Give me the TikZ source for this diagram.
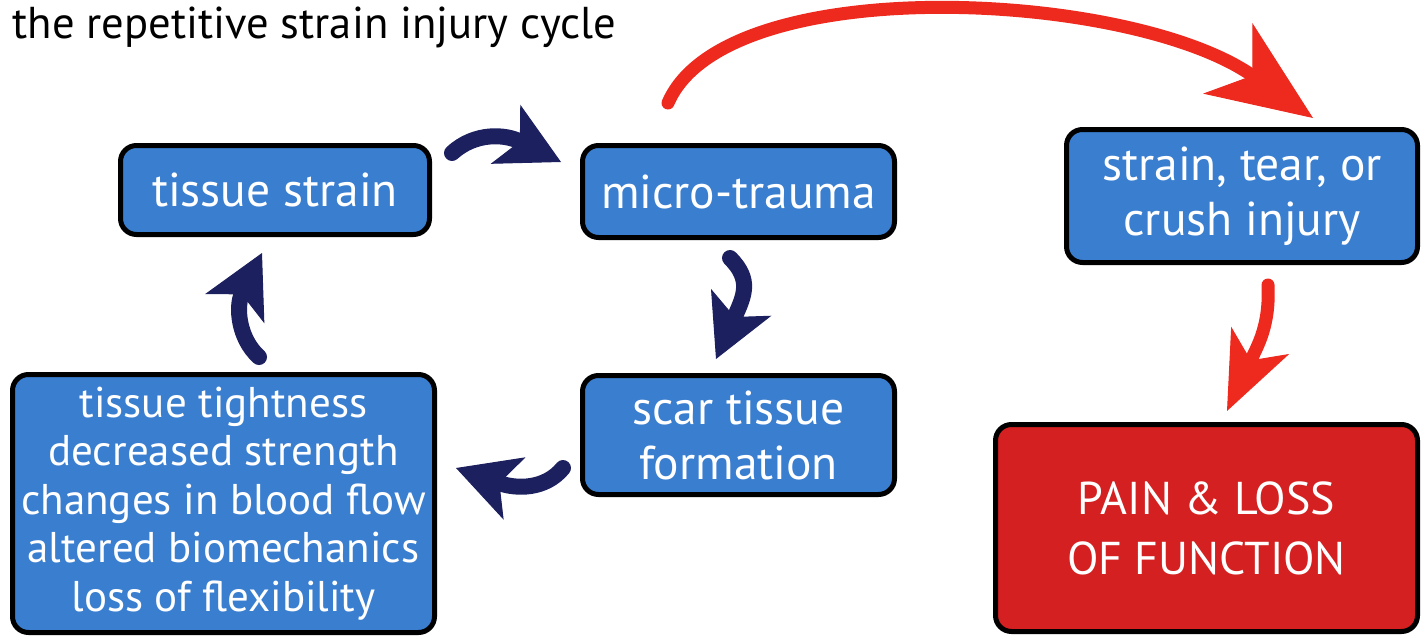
\documentclass[tikz,border=0pt]{standalone}
\usepackage{fontspec}
\setmainfont{PT Sans}
\usetikzlibrary{arrows.meta}
\definecolor{boxblue}{RGB}{58,126,208}
\definecolor{boxred}{RGB}{212,32,32}
\definecolor{navy}{RGB}{28,32,94}
\definecolor{arrred}{RGB}{238,42,30}
\begin{document}
\begin{tikzpicture}[x=1pt,y=-1pt,
  box/.style={draw=black, line width=5pt, rounded corners=16pt, fill=boxblue,
    text=white, align=center, inner sep=0pt},
  redbox/.style={box, fill=boxred},
  boxfont/.style={font=\fontsize{47.5}{55}\selectfont},
  navyarrow/.style={draw=navy, line width=16pt, line cap=round,
    -{Stealth[length=62pt,width=66pt,inset=16pt,line width=1pt]}},
  redarrow/.style={draw=arrred, line width=13pt, line cap=round,
    -{Stealth[length=104pt,width=86pt,inset=30pt,line width=1pt]}},
  redarrowb/.style={draw=arrred, line width=13pt, line cap=round,
    -{Stealth[length=78pt,width=64pt,inset=22pt,line width=1pt]}}]
\useasboundingbox (0,0) rectangle (1427,637);

\node[anchor=base west, font=\fontsize{44.6}{50}\selectfont] (title) at (9,38) {the repetitive strain injury cycle};

\node[box, boxfont, minimum width=309pt, minimum height=89pt] (ts) at (275,190) {tissue strain};
\node[box, boxfont, minimum width=312pt, minimum height=92pt] (mt) at (738.5,191.5) {micro-trauma};
\node[box, boxfont, minimum width=312pt, minimum height=119pt] (sc) at (738.5,435) {scar tissue\\formation};
\node[box, font=\fontsize{43}{48.5}\selectfont, minimum width=422pt, minimum height=258pt] (tt) at (223.5,503.5)
  {tissue tightness\\decreased strength\\changes in blood flow\\altered biomechanics\\loss of flexibility};
\node[box, boxfont, minimum width=351pt, minimum height=133pt] (st) at (1242,196) {strain, tear, or\\crush injury};
\node[redbox, font=\fontsize{46}{60}\selectfont, minimum width=422pt, minimum height=207pt] (pl) at (1206.5,528) {PAIN \& LOSS\\OF FUNCTION};

% navy cycle arrows
\coordinate (a1s) at (452,153);
\coordinate (a1e) at (561,162);
\draw[navyarrow] (a1s) .. controls (475,132) and (505,134) .. (a1e);

\coordinate (a2s) at (730,258);
\coordinate (a2e) at (716,359);
\draw[navyarrow] (a2s) .. controls (752,280) and (744,296) .. (a2e);

\coordinate (a3s) at (563,468);
\coordinate (a3e) at (456,468);
\draw[navyarrow] (a3s) .. controls (545,490) and (516,489) .. (a3e);

\coordinate (a4s) at (259,357);
\coordinate (a4e) at (262,253);
\draw[navyarrow] (a4s) .. controls (238,338) and (236,306) .. (a4e);

% red arrows
\coordinate (r1s) at (668,103);
\coordinate (r1e) at (1313,118);
\draw[redarrow] (r1s) .. controls (725,-30) and (1130,-10) .. (r1e);

\coordinate (r2s) at (1268,285);
\coordinate (r2e) at (1227,411);
\draw[redarrowb] (r2s) .. controls (1270,325) and (1258,345) .. (r2e);
\end{tikzpicture}
\end{document}
